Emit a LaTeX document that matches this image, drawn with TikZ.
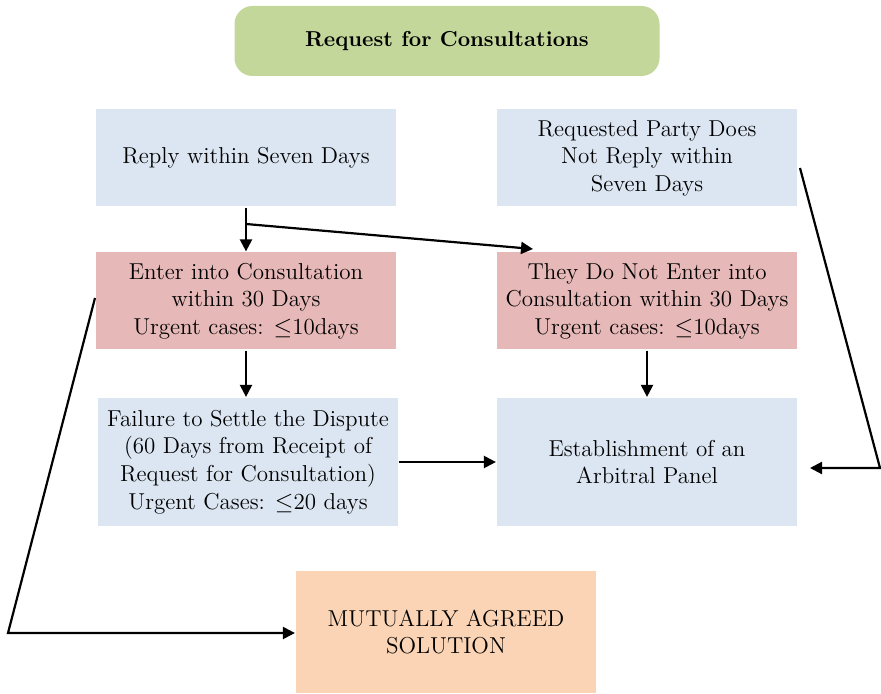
\documentclass[tikz,border=0pt]{standalone}
\usetikzlibrary{arrows.meta}
\definecolor{greenbox}{HTML}{C4D79B}
\definecolor{bluebox}{HTML}{DCE6F2}
\definecolor{pinkbox}{HTML}{E6B8B7}
\definecolor{tanbox}{HTML}{FAD4B4}
\begin{document}
\begin{tikzpicture}[x=0.5pt, y=-0.5pt, line width=1.1pt, >={Triangle[length=6pt,width=6pt]},
main/.style = {minimum width=150pt, minimum height=48.5pt, align=center, inner sep=2pt, font=\fontsize{11.5}{13.8}\selectfont}]
\useasboundingbox (0,0) rectangle (881,694);

\node[main, fill=greenbox, rounded corners=9pt, minimum width=212.5pt, minimum height=35pt, font=\fontsize{10.8}{13}\selectfont\bfseries] (1) at (447,41) {Request for Consultations};

\node[main, fill=bluebox] (2) at (246,158) {Reply within Seven Days};
\node[main, fill=bluebox] (3) at (647,158) {Requested Party Does\\Not Reply within\\Seven Days};

\node[main, fill=pinkbox] (4) at (246,301) {Enter into Consultation\\within 30 Days\\Urgent cases: $\leq$10days};
\node[main, fill=pinkbox] (5) at (647,301) {They Do Not Enter into\\Consultation within 30 Days\\Urgent cases: $\leq$10days};

\node[main, fill=bluebox, minimum height=64pt] (6) at (248,462) {Failure to Settle the Dispute\\(60 Days from Receipt of\\Request for Consultation)\\Urgent Cases: $\leq$20 days};
\node[main, fill=bluebox, minimum height=64pt] (7) at (647,462) {Establishment of an\\Arbitral Panel};

\node[main, fill=tanbox, minimum height=61pt] (8) at (446,632) {MUTUALLY AGREED\\SOLUTION};

\draw[->] (2) -- (4);
\coordinate (s) at (246,224);
\draw[->] (s) -- (533,249);

\draw[->] (4) -- (4 |- 6.north);
\draw[->] (5) -- (7);
\draw[->] (6) -- (7);

% side routes
\coordinate (r1) at (800,168);
\coordinate (r2) at (880,468);
\coordinate (r3) at (810,468);
\draw[->] (r1) -- (r2) -- (r3);
\coordinate (l1) at (95,298);
\coordinate (l2) at (8,633);
\draw[->] (l1) -- (l2) -- (8.west |- l2);

\end{tikzpicture}
\end{document}
